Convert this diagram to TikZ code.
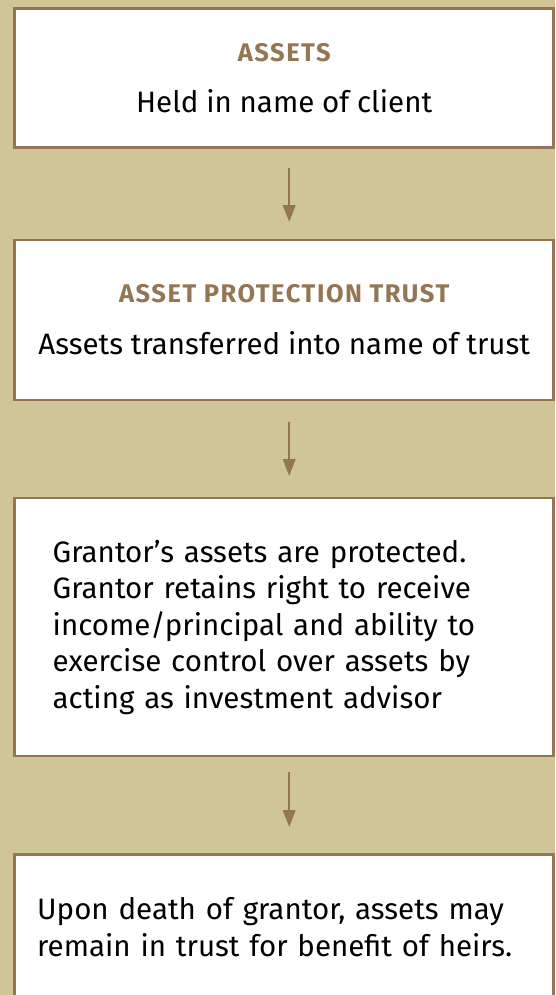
\documentclass[tikz,border=0pt]{standalone}
\usepackage{fontspec}
\setmainfont{Fira Sans}
\newfontfamily\headfont[LetterSpace=6]{Fira Sans}
\definecolor{tanbg}{RGB}{207,197,151}
\definecolor{trustbrown}{RGB}{148,118,84}
\usetikzlibrary{arrows.meta, positioning}

\begin{document}
\begin{tikzpicture}[x=1pt, y=-1pt,
  stepbox/.style={draw=trustbrown, line width=2.7pt, fill=white, anchor=north,
    minimum width=539pt, inner sep=0pt, font=\fontsize{29.5}{36.5}\selectfont},
  flow/.style={draw=trustbrown, line width=2.5pt, -{Triangle[length=17pt, width=12.5pt]}}]
  \useasboundingbox (0,0) rectangle (555,995);
  \fill[tanbg] (0,0) rectangle (555,995);

  % Step 1: assets held by client
  \node[stepbox, minimum height=139pt, align=center] (assets) at (284.2, 7.5)
    {\textcolor{trustbrown}{\headfont\bfseries\fontsize{25.5}{28}\selectfont ASSETS}\\[15pt]
     Held in name of client};

  % Step 2: transfer into trust
  \node[stepbox, minimum height=160pt, align=center] (trust) at (284.2, 238.5)
    {\textcolor{trustbrown}{\headfont\bfseries\fontsize{25.5}{28}\selectfont ASSET PROTECTION TRUST}\\[15pt]
     Assets transferred into name of trust};

  % Step 3: protection while grantor lives
  \node[stepbox, minimum height=258pt, text width=463pt, align=left] (protect) at (284.2, 496.7)
    {Grantor’s assets are protected.\\
     Grantor retains right to receive\\
     income/principal and ability to\\
     exercise control over assets by\\
     acting as investment advisor};

  % Step 4: after death of grantor
  \node[stepbox, minimum height=146pt, text width=494pt, align=left] (heirs) at (284.2, 853)
    {Upon death of grantor, assets may\\
     remain in trust for benefit of heirs.};

  % Arrows between steps
  \draw[flow, shorten <=18.5pt, shorten >=16.5pt] ([xshift=5pt]assets.south) -- ([xshift=5pt]trust.north);
  \draw[flow, shorten <=20.7pt, shorten >=20.7pt] ([xshift=5pt]trust.south) -- ([xshift=5pt]protect.north);
  \draw[flow, shorten <=15pt, shorten >=26pt] ([xshift=5pt]protect.south) -- ([xshift=5pt]heirs.north);
\end{tikzpicture}
\end{document}
